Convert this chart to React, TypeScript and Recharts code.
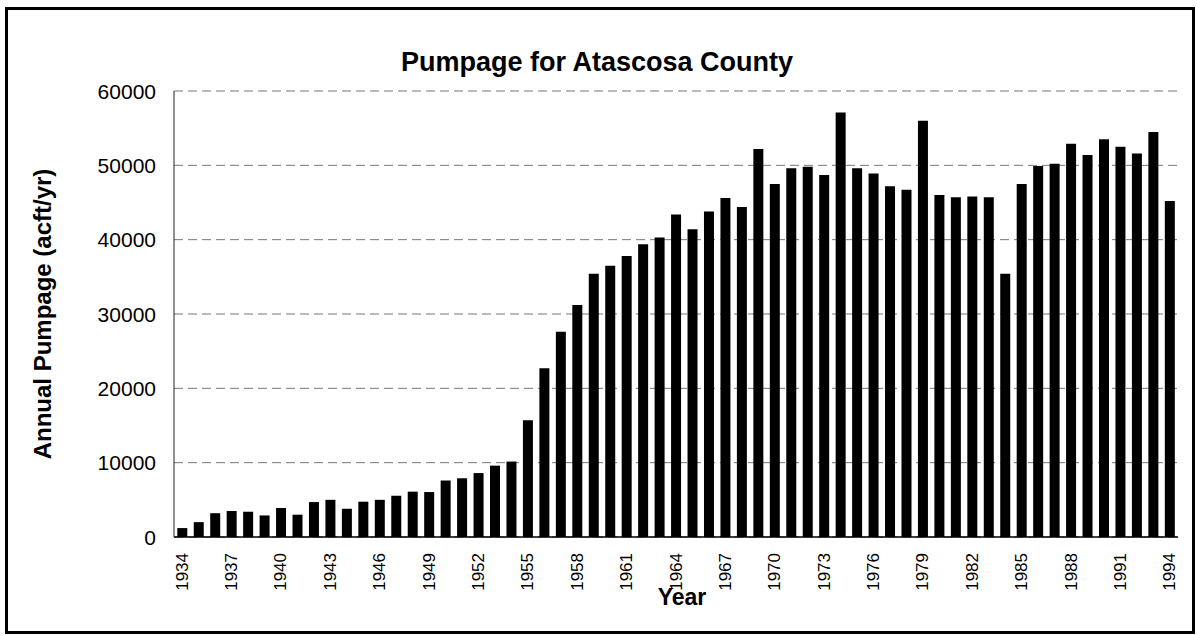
import React from 'react';
import { BarChart, Bar, XAxis, YAxis, CartesianGrid } from 'recharts';

const years: string[] = [
  '1934','1935','1936','1937','1938','1939','1940','1941','1942','1943',
  '1944','1945','1946','1947','1948','1949','1950','1951','1952','1953',
  '1954','1955','1956','1957','1958','1959','1960','1961','1962','1963',
  '1964','1965','1966','1967','1968','1969','1970','1971','1972','1973',
  '1974','1975','1976','1977','1978','1979','1980','1981','1982','1983',
  '1984','1985','1986','1987','1988','1989','1990','1991','1992','1993','1994',
];

const pumpage: number[] = [
  1200, 2000, 3200, 3500, 3400, 2900, 3900, 3000, 4700, 5000,
  3800, 4750, 5000, 5550, 6100, 6050, 7600, 7900, 8600, 9600,
  10150, 15700, 22700, 27600, 31200, 35400, 36500, 37800, 39400, 40300,
  43400, 41400, 43800, 45600, 44400, 52200, 47500, 49600, 49800, 48700,
  57100, 49600, 48900, 47200, 46700, 56000, 46000, 45700, 45800, 45700,
  35400, 47500, 49900, 50200, 52900, 51400, 53500, 52500, 51600, 54500, 45200,
];

const yTicks: number[] = [0, 10000, 20000, 30000, 40000, 50000, 60000];

const title = 'Pumpage for Atascosa County';
const yTitle = 'Annual Pumpage (acft/yr)';
const xTitle = 'Year';

const data = years.map((y, i) => ({ year: y, value: pumpage[i] }));

const FONT = '"Liberation Sans", Arial, sans-serif';

const XTick = (props: any) => {
  const { x, y, payload } = props;
  return (
    <g transform={`translate(${x},${y})`}>
      <text
        transform="rotate(-90)"
        x={0}
        y={0}
        textAnchor="end"
        dominantBaseline="central"
        fontFamily={FONT}
        fontSize={17}
        fill="#000"
      >
        {payload.value}
      </text>
    </g>
  );
};

const YTick = (props: any) => {
  const { x, y, payload } = props;
  return (
    <text
      x={x}
      y={y}
      textAnchor="end"
      dominantBaseline="central"
      fontFamily={FONT}
      fontSize={21}
      fill="#000"
    >
      {payload.value}
    </text>
  );
};

const YTitle = (props: any) => {
  const vb = props.viewBox || {};
  const cx = 42;
  const cy = (vb.y ?? 91) + (vb.height ?? 446) / 2;
  return (
    <text
      x={cx}
      y={cy}
      transform={`rotate(-90 ${cx} ${cy})`}
      textAnchor="middle"
      dominantBaseline="central"
      fontFamily={FONT}
      fontWeight="bold"
      fontSize={24}
      fill="#000"
    >
      {yTitle}
    </text>
  );
};

const XTitle = (props: any) => {
  const vb = props.viewBox || {};
  const cx = (vb.x ?? 174) + (vb.width ?? 1004) / 2 + 6;
  const cy = 597;
  return (
    <text
      x={cx}
      y={cy}
      textAnchor="middle"
      dominantBaseline="central"
      fontFamily={FONT}
      fontWeight="bold"
      fontSize={23}
      fill="#000"
    >
      {xTitle}
    </text>
  );
};

export default function App() {
  return (
    <div style={{ position: 'absolute', left: 0, top: 0, width: 1197, height: 635, background: '#fff' }}>
      <div
        style={{
          position: 'absolute',
          left: 5,
          top: 7,
          width: 1184,
          height: 621,
          border: '3px solid #000',
        }}
      />
      <svg
        width={1197}
        height={100}
        style={{ position: 'absolute', left: 0, top: 0 }}
      >
        <text
          x={597}
          y={62}
          textAnchor="middle"
          dominantBaseline="central"
          fontFamily={FONT}
          fontWeight="bold"
          fontSize={27}
          fill="#000"
        >
          {title}
        </text>
      </svg>
      <div style={{ position: 'absolute', left: 0, top: 0 }}>
        <BarChart
          width={1197}
          height={635}
          data={data}
          margin={{ top: 91, right: 19, bottom: 8, left: 0 }}
          barCategoryGap="20%"
        >
          <CartesianGrid vertical={false} stroke="#777" strokeDasharray="9 5" />
          <XAxis
            dataKey="year"
            interval={2}
            tickLine={false}
            axisLine={{ stroke: '#000', strokeWidth: 1.5 }}
            tick={<XTick />}
            tickSize={0}
            tickMargin={16}
            height={90}
            label={<XTitle />}
          />
          <XAxis
            xAxisId="top"
            dataKey="year"
            orientation="top"
            tick={false}
            tickLine={false}
            height={0}
            axisLine={{ stroke: '#333', strokeWidth: 1 }}
          />
          <YAxis
            domain={[0, 60000]}
            ticks={yTicks}
            interval={0}
            tickLine={false}
            tickSize={0}
            tickMargin={18}
            width={174}
            axisLine={{ stroke: '#222', strokeWidth: 1 }}
            tick={<YTick />}
            label={<YTitle />}
          />
          <YAxis
            yAxisId="right"
            orientation="right"
            domain={[0, 60000]}
            tick={false}
            tickLine={false}
            width={0}
            axisLine={{ stroke: '#444', strokeWidth: 1, strokeDasharray: '2 1' }}
          />
          <Bar dataKey="value" fill="#000" isAnimationActive={false} />
        </BarChart>
      </div>
    </div>
  );
}
